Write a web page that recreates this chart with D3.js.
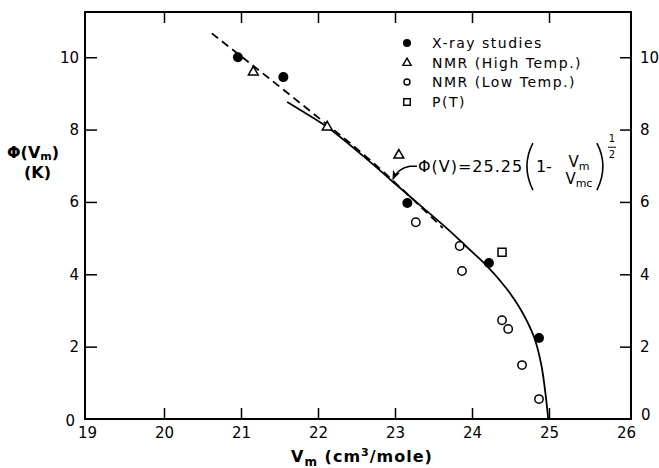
<!DOCTYPE html>
<html><head><meta charset="utf-8">
<script src="https://cdn.jsdelivr.net/npm/d3@7"></script>
<style>
body{margin:0;background:#fff;}
text{font-family:"DejaVu Sans",sans-serif;fill:#000;}
</style></head>
<body><svg id="c" width="659" height="468"></svg>
<script>
// ---- data ----
const xTicks = [19, 20, 21, 22, 23, 24, 25, 26];
const yTicks = [0, 2, 4, 6, 8, 10];
const xrayV = [20.96, 21.55, 23.16, 24.22, 24.87];
const xrayPhi = [10.0, 9.45, 5.97, 4.31, 2.24];
const nmrHighV = [21.16, 22.12, 23.05];
const nmrHighPhi = [9.59, 8.07, 7.29];
const nmrLowV = [23.27, 23.84, 23.87, 24.39, 24.47, 24.65, 24.87];
const nmrLowPhi = [5.44, 4.78, 4.09, 2.73, 2.49, 1.49, 0.55];
const ptV = [24.39];
const ptPhi = [4.61];
const fitV = [21.60, 21.77, 22.12, 22.68, 22.96, 23.14, 23.32, 23.71, 23.94, 24.19, 24.45, 24.64, 24.81, 24.90, 24.96, 24.99];
const fitPhi = [8.76, 8.54, 8.07, 7.10, 6.58, 6.25, 5.92, 5.20, 4.74, 4.24, 3.60, 3.00, 2.24, 1.50, 0.60, 0];
const dashV = [20.62, 21.77, 22.68, 23.62];
const dashPhi = [10.66, 8.73, 7.15, 5.28];
const legendLabels = ["X-ray studies", "NMR (High Temp.)", "NMR (Low Temp.)", "P(T)"];

const svg = d3.select("#c");
const x = d3.scaleLinear().domain([19, 26]).range([87, 626]);
const y = d3.scaleLinear().domain([0, 11.25]).range([419, 12]);
const L = 85, R = 631, T = 12, B = 419;

// frame
svg.append("rect").attr("x", L).attr("y", T).attr("width", R - L).attr("height", B - T)
  .attr("fill", "none").attr("stroke", "#000").attr("stroke-width", 2);

function styleAxis(g) {
  g.select(".domain").remove();
  g.selectAll(".tick line").attr("stroke", "#000").attr("stroke-width", 1.5);
  g.selectAll("text").style("font-size", "15px").style("font-family", "DejaVu Sans").attr("fill", "#000");
}
const inner = [20, 21, 22, 23, 24, 25];
// bottom
const gb = svg.append("g").attr("transform", `translate(0,${B})`)
  .call(d3.axisBottom(x).tickValues(xTicks).tickSize(-11).tickPadding(8).tickFormat(d3.format("d")));
styleAxis(gb);
gb.selectAll(".tick").filter(d => d === 19 || d === 26).select("line").remove();
// top
const gt = svg.append("g").attr("transform", `translate(0,${T})`)
  .call(d3.axisTop(x).tickValues(inner).tickSize(-11).tickFormat(""));
styleAxis(gt);
// left
const gl = svg.append("g").attr("transform", `translate(${L},0)`)
  .call(d3.axisLeft(y).tickValues(yTicks).tickSize(-12).tickPadding(6).tickFormat(d3.format("d")));
styleAxis(gl);
gl.selectAll(".tick").filter(d => d === 0).select("line").remove();
gl.selectAll(".tick").filter(d => d === 0).select("text").attr("x", -10).attr("dy", "0.45em");
// right
const gr = svg.append("g").attr("transform", `translate(${R},0)`)
  .call(d3.axisRight(y).tickValues(yTicks).tickSize(-11).tickPadding(9).tickFormat(d3.format("d")));
styleAxis(gr);
gr.selectAll(".tick").filter(d => d === 0).select("line").remove();
gr.selectAll(".tick").filter(d => d === 0).select("text").attr("x", 10).attr("dy", "0em");

// lines
const dashGen = d3.line().x(d => x(d[0])).y(d => y(d[1])).curve(d3.curveMonotoneX);
const fitGen = d3.line().x(d => x(d[0])).y(d => y(d[1])).curve(d3.curveCatmullRom.alpha(0.5));
svg.append("path").datum(dashV.map((v, i) => [v, dashPhi[i]]))
  .attr("d", dashGen).attr("fill", "none").attr("stroke", "#000")
  .attr("stroke-width", 1.8).attr("stroke-dasharray", "8,5");
svg.append("path").datum(fitV.map((v, i) => [v, fitPhi[i]]))
  .attr("d", fitGen).attr("fill", "none").attr("stroke", "#000").attr("stroke-width", 1.8);

// markers
const tri = d3.symbol().type(d3.symbolTriangle).size(42);
const sq = d3.symbol().type(d3.symbolSquare).size(64);
svg.selectAll(".xr").data(xrayV).enter().append("circle")
  .attr("cx", d => x(d)).attr("cy", (d, i) => y(xrayPhi[i])).attr("r", 5).attr("fill", "#000");
svg.selectAll(".nh").data(nmrHighV).enter().append("path")
  .attr("d", tri).attr("transform", (d, i) => `translate(${x(d)},${y(nmrHighPhi[i])})`)
  .attr("fill", "#fff").attr("stroke", "#000").attr("stroke-width", 1.5);
svg.selectAll(".nl").data(nmrLowV).enter().append("circle")
  .attr("cx", d => x(d)).attr("cy", (d, i) => y(nmrLowPhi[i])).attr("r", 4.2)
  .attr("fill", "#fff").attr("stroke", "#000").attr("stroke-width", 1.5);
svg.selectAll(".pt").data(ptV).enter().append("path")
  .attr("d", sq).attr("transform", (d, i) => `translate(${x(d)},${y(ptPhi[i])})`)
  .attr("fill", "#fff").attr("stroke", "#000").attr("stroke-width", 1.5);

// legend
const lg = svg.append("g");
const rowY = [43, 63, 82, 102];
legendLabels.forEach((t, i) => {
  const gy = rowY[i];
  if (i === 0) lg.append("circle").attr("cx", 407).attr("cy", gy).attr("r", 4).attr("fill", "#000");
  if (i === 1) lg.append("path").attr("d", d3.symbol().type(d3.symbolTriangle).size(30)())
    .attr("transform", `translate(407,${gy})`).attr("fill", "none").attr("stroke", "#000").attr("stroke-width", 1.4);
  if (i === 2) lg.append("circle").attr("cx", 407).attr("cy", gy).attr("r", 3).attr("fill", "none").attr("stroke", "#000").attr("stroke-width", 1.4);
  if (i === 3) lg.append("path").attr("d", d3.symbol().type(d3.symbolSquare).size(42)())
    .attr("transform", `translate(407,${gy})`).attr("fill", "none").attr("stroke", "#000").attr("stroke-width", 1.4);
  lg.append("text").attr("x", 432).attr("y", gy + 5).style("font-size", "14px")
    .style("letter-spacing", "1.5px").text(t);
});

// axis labels
const yl = svg.append("text").attr("x", 7).attr("y", 158).style("font-size", "16px").style("font-weight", "bold");
yl.append("tspan").text("Φ(V");
yl.append("tspan").attr("dy", 2).style("font-size", "11px").text("m");
yl.append("tspan").attr("dy", -2).text(")");
svg.append("text").attr("x", 24).attr("y", 178).style("font-size", "16px").style("font-weight", "bold").text("(K)");

const xl = svg.append("text").attr("x", 362).attr("y", 462).attr("text-anchor", "middle")
  .style("font-size", "16px").style("font-weight", "bold").style("letter-spacing", "1px");
xl.append("tspan").text("V");
xl.append("tspan").attr("dy", 4).style("font-size", "12px").text("m");
xl.append("tspan").attr("dy", -4).text(" (cm");
xl.append("tspan").attr("dy", -6).style("font-size", "11px").text("3");
xl.append("tspan").attr("dy", 6).text("/mole)");

// annotation
svg.append("defs").append("marker").attr("id", "ah").attr("viewBox", "0 0 10 10")
  .attr("refX", 9).attr("refY", 5).attr("markerWidth", 7).attr("markerHeight", 7)
  .attr("orient", "auto").append("path").attr("d", "M0,1 L10,5 L0,9 L3,5 Z").attr("fill", "#000");
const tipX = x(22.96), tipY = y(6.60);
svg.append("path").attr("d", `M${tipX + 25},${tipY - 14} L${tipX + 18},${tipY - 14} Q${tipX + 6},${tipY - 12} ${tipX + 1},${tipY - 1}`)
  .attr("fill", "none").attr("stroke", "#000").attr("stroke-width", 1.4).attr("marker-end", "url(#ah)");
const fx = tipX + 26, fy = tipY - 8;
svg.append("text").attr("x", fx).attr("y", fy).style("font-size", "16px").style("letter-spacing", "1px").text("Φ(V)=25.25");
svg.append("path").attr("d", `M${fx + 115},${fy - 29} Q${fx + 103},${fy - 6} ${fx + 115},${fy + 18}`)
  .attr("fill", "none").attr("stroke", "#000").attr("stroke-width", 1.6);
svg.append("text").attr("x", fx + 118).attr("y", fy).style("font-size", "16px").text("1-");
const num = svg.append("text").attr("x", fx + 161).attr("y", fy - 5).attr("text-anchor", "middle").style("font-size", "15px");
num.append("tspan").text("V"); num.append("tspan").attr("dy", 3).style("font-size", "11px").text("m");
const den = svg.append("text").attr("x", fx + 161).attr("y", fy + 12).attr("text-anchor", "middle").style("font-size", "15px");
den.append("tspan").text("V"); den.append("tspan").attr("dy", 3).style("font-size", "11px").text("mc");
svg.append("path").attr("d", `M${fx + 179},${fy - 29} Q${fx + 191},${fy - 6} ${fx + 179},${fy + 18}`)
  .attr("fill", "none").attr("stroke", "#000").attr("stroke-width", 1.6);
svg.append("text").attr("x", fx + 194).attr("y", fy - 30).attr("text-anchor", "middle").style("font-size", "10px").text("1");
svg.append("line").attr("x1", fx + 190).attr("x2", fx + 198).attr("y1", fy - 25).attr("y2", fy - 25).attr("stroke", "#000").attr("stroke-width", 1);
svg.append("text").attr("x", fx + 194).attr("y", fy - 14).attr("text-anchor", "middle").style("font-size", "10px").text("2");
</script></body></html>
